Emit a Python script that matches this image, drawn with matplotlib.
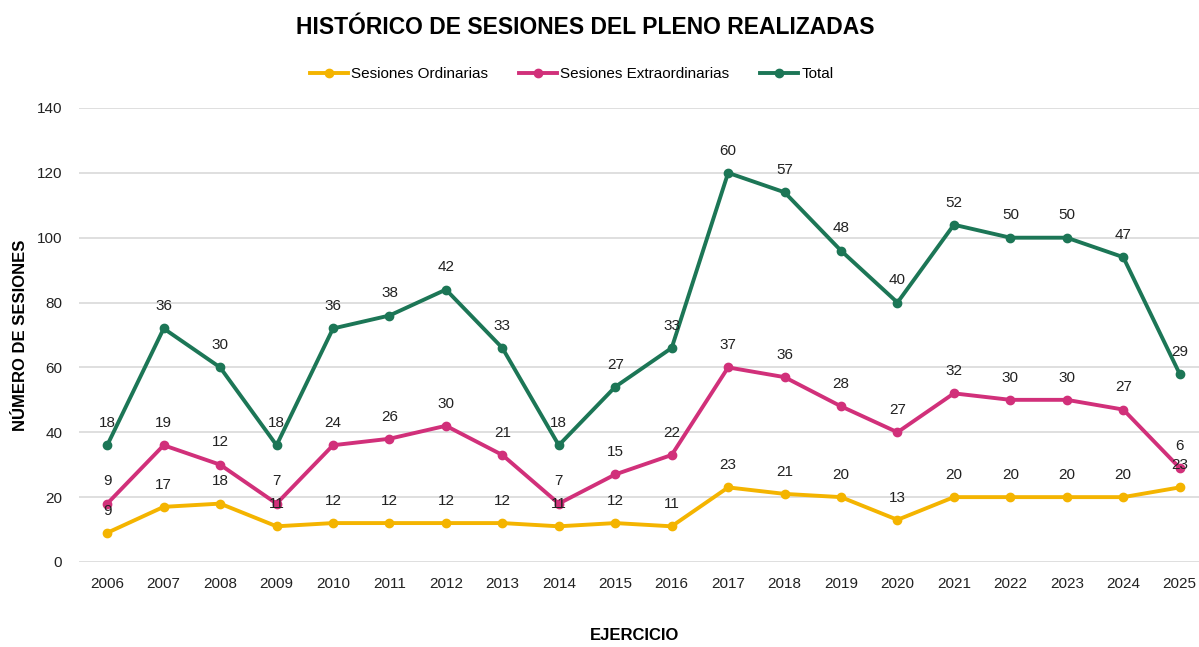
import numpy as np
import matplotlib.pyplot as plt

years = [str(y) for y in range(2006, 2026)]
ordinarias = [9, 17, 18, 11, 12, 12, 12, 12, 11, 12, 11, 23, 21, 20, 13, 20, 20, 20, 20, 23]
extraordinarias = [9, 19, 12, 7, 24, 26, 30, 21, 7, 15, 22, 37, 36, 28, 27, 32, 30, 30, 27, 6]
total = [18, 36, 30, 18, 36, 38, 42, 33, 18, 27, 33, 60, 57, 48, 40, 52, 50, 50, 47, 29]

series_names = ['Sesiones Ordinarias', 'Sesiones Extraordinarias', 'Total']
colors = ['#F4B400', '#D1307A', '#1C7656']

plt.rcParams['font.family'] = ['Liberation Sans', 'DejaVu Sans']

# the original is a stacked line chart: each line sits on top of the previous ones
values = np.array([ordinarias, extraordinarias, total])
stacked = np.cumsum(values, axis=0)

fig = plt.figure(figsize=(11.99, 6.47), dpi=100)
ax = fig.add_axes([0.0659, 0.1314, 0.934, 0.7017])

x = np.arange(len(years))
for name, raw, ys, c in zip(series_names, values, stacked, colors):
    ax.plot(x, ys, color=c, lw=2.8, marker='o', ms=6, label=name, zorder=3)
    for xi, yi, v in zip(x, ys, raw):
        ax.annotate(str(v), (xi, yi), xytext=(0, 16), textcoords='offset points',
                    ha='center', va='center', fontsize=11, color='#222222', zorder=5)

ax.set_ylim(0, 140)
ax.set_yticks(range(0, 141, 20))
ax.set_xlim(-0.5, 19.34)
ax.set_xticks(x)
ax.set_xticklabels(years)
ax.grid(axis='y', color='#d9d9d9', lw=1.2)
ax.set_axisbelow(True)
for s in ax.spines.values():
    s.set_visible(False)
ax.tick_params(length=0, labelsize=11, colors='#222222')
ax.tick_params(axis='x', pad=11)
ax.tick_params(axis='y', pad=12)

ax.set_ylabel('NÚMERO DE SESIONES', fontsize=12, fontweight='bold')
ax.yaxis.set_label_coords(-0.0456, 0.5)
ax.set_xlabel('EJERCICIO', fontsize=12, fontweight='bold')
ax.xaxis.set_label_coords(0.496, -0.145)

fig.text(0.488, 0.957, 'HISTÓRICO DE SESIONES DEL PLENO REALIZADAS',
         ha='center', va='center', fontsize=16.5, fontweight='bold')

ax.legend(loc='center', bbox_to_anchor=(0.44, 1.075), ncol=3, frameon=False,
          fontsize=11, handlelength=2.5, handletextpad=0.2, columnspacing=2.0)

fig.savefig('out.png', dpi=100)
